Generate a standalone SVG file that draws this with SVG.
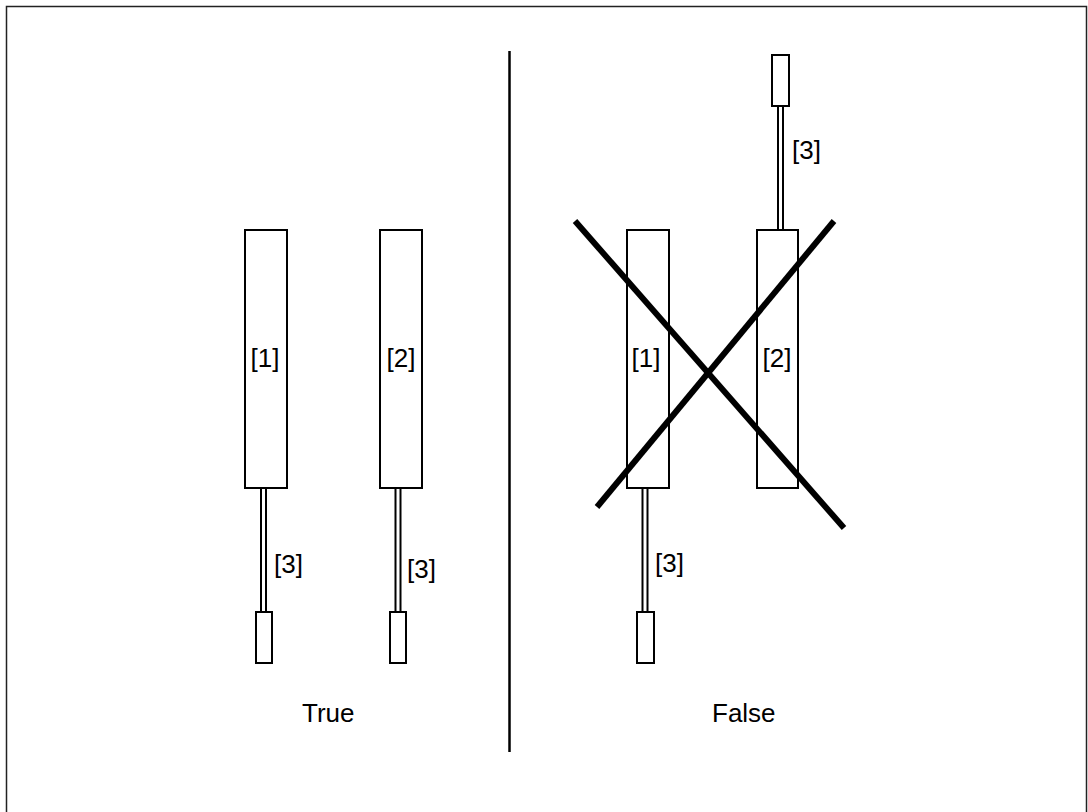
<svg xmlns="http://www.w3.org/2000/svg" width="1088" height="812" viewBox="0 0 1088 812">
<style>
.box{fill:#fff;stroke:#000;stroke-width:2}
.rod{fill:#fff;stroke:#000;stroke-width:2}
.lbl{font-family:"Liberation Sans",Arial,sans-serif;font-size:26px;fill:#000}
.mid{text-anchor:middle}
.cross{stroke:#000;stroke-width:6;stroke-linecap:butt}
</style>
<rect x="0" y="0" width="1088" height="812" fill="#fff"/>
<rect x="6.5" y="6.5" width="1080" height="830" fill="none" stroke="#222" stroke-width="1.5"/>
<line x1="509.5" y1="51" x2="509.5" y2="752" stroke="#000" stroke-width="2.5"/>
<g id="connectors">
<rect class="rod" x="261" y="488" width="5" height="124"/>
<rect class="rod" x="395.5" y="488" width="5" height="124"/>
<rect class="rod" x="642.5" y="488" width="5" height="124"/>
<rect class="rod" x="778" y="106" width="5" height="124"/>
</g>
<g id="true-rect1"><rect class="box" x="245" y="230" width="42" height="258"/><text class="lbl mid" x="265" y="367">[1]</text></g>
<g id="true-rect2"><rect class="box" x="380" y="230" width="42" height="258"/><text class="lbl mid" x="401" y="367">[2]</text></g>
<g id="true-end1"><rect class="box" x="256" y="612" width="16" height="51"/><text class="lbl" x="274" y="573">[3]</text></g>
<g id="true-end2"><rect class="box" x="390" y="612" width="16" height="51"/><text class="lbl" x="407" y="578">[3]</text></g>
<g id="false-rect1"><rect class="box" x="627" y="230" width="42" height="258"/><text class="lbl mid" x="646" y="367">[1]</text></g>
<g id="false-rect2"><rect class="box" x="757" y="230" width="41" height="258"/><text class="lbl mid" x="777" y="367">[2]</text></g>
<g id="false-end1"><rect class="box" x="637" y="612" width="17" height="51"/><text class="lbl" x="655" y="572">[3]</text></g>
<g id="false-end2"><rect class="box" x="772" y="55" width="17" height="51"/><text class="lbl" x="792" y="159">[3]</text></g>
<g id="cross">
<line class="cross" x1="575" y1="221" x2="844" y2="528"/>
<line class="cross" x1="834" y1="221" x2="597" y2="507"/>
</g>
<text class="lbl" x="302" y="722">True</text>
<text class="lbl" x="712" y="722">False</text>
</svg>
